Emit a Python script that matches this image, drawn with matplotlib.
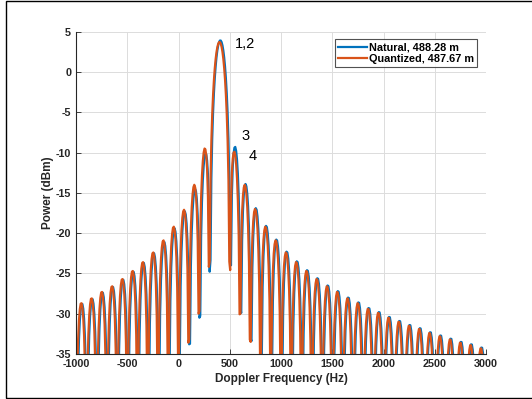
import numpy as np
import matplotlib
matplotlib.use("Agg")
import matplotlib.pyplot as plt
from matplotlib.patches import Rectangle

plt.rcParams['font.family'] = ['Liberation Sans', 'DejaVu Sans']
plt.rcParams['axes.unicode_minus'] = False

# ---- data ----
series_names = ["Natural, 488.28 m", "Quantized, 487.67 m"]
series_colors = ["#0072BD", "#D95319"]
main_peak_freq_hz = [408, 400]          # frequency of main-lobe peak
lobe_width_hz = [100, 100]              # spacing between spectral nulls
main_peak_dbm = [3.9, 3.7]
# sidelobe peak levels, counted outward from the main lobe
left_peaks_dbm = [
    [-10.1, -14.5, -17.3, -19.4, -21.1, -22.5, -23.7, -24.8, -25.8, -26.7, -27.4, -28.2, -28.8, -29.5, -30.0],
    [-9.5, -14.0, -17.1, -19.2, -20.9, -22.4, -23.6, -24.7, -25.7, -26.6, -27.3, -28.1, -28.7, -29.4, -29.9],
]
right_peaks_dbm = [
    [-9.3, -13.9, -16.9, -19.1, -20.8, -22.3, -23.5, -24.6, -25.6, -26.5, -27.2, -28.0, -28.6, -29.3, -29.8,
     -30.4, -30.9, -31.4, -31.8, -32.3, -32.7, -33.1, -33.5, -33.8, -34.2, -34.5],
    [-9.9, -14.0, -17.0, -19.2, -20.9, -22.4, -23.6, -24.7, -25.7, -26.6, -27.3, -28.1, -28.7, -29.4, -29.9,
     -30.5, -31.0, -31.5, -31.9, -32.4, -32.8, -33.2, -33.6, -33.9, -34.3, -34.6],
]
xticks = [-1000, -500, 0, 500, 1000, 1500, 2000, 2500, 3000]
yticks = [-35, -30, -25, -20, -15, -10, -5, 0, 5]
annotations = [("1,2", 548, 3.5), ("3", 610, -8.0), ("4", 680, -10.4)]

SAMPLES_PER_LOBE = 12


def lobe_curve(f0, width, start, stop, peak):
    """Sample one spectral lobe between nulls start..stop (in lobe units)."""
    n = int(round((stop - start) * SAMPLES_PER_LOBE))
    u = start + (np.arange(n) + 0.5) / SAMPLES_PER_LOBE
    mag = np.abs(np.sinc(u))
    level = peak + 20 * np.log10(mag / mag.max())
    return f0 + u * width, level


def build_series(i):
    f0, w = main_peak_freq_hz[i], lobe_width_hz[i]
    freqs, levels = [], []
    for k in range(len(left_peaks_dbm[i]), 0, -1):
        f, l = lobe_curve(f0, w, -k - 1, -k, left_peaks_dbm[i][k - 1])
        freqs.append(f); levels.append(l)
    f, l = lobe_curve(f0, w, -1, 1, main_peak_dbm[i])
    freqs.append(f); levels.append(l)
    for k in range(1, len(right_peaks_dbm[i]) + 1):
        f, l = lobe_curve(f0, w, k, k + 1, right_peaks_dbm[i][k - 1])
        freqs.append(f); levels.append(l)
    return np.concatenate(freqs), np.concatenate(levels)


fig = plt.figure(figsize=(5.32, 3.99), dpi=100)
ax = fig.add_axes([76 / 532, 45 / 399, 410 / 532, 322.3 / 399])

for i in range(2):
    f, l = build_series(i)
    ax.plot(f, l, color=series_colors[i], lw=1.6, label=series_names[i])

ax.set_xlim(-1000, 3000)
ax.set_ylim(-35, 5)
ax.set_xticks(xticks)
ax.set_yticks(yticks)
ax.grid(True, color='#dcdcdc', lw=0.7)
ax.set_axisbelow(True)
for s in ['top', 'right']:
    ax.spines[s].set_visible(False)
for s in ['left', 'bottom']:
    ax.spines[s].set_color('#262626')
    ax.spines[s].set_linewidth(0.8)
ax.tick_params(direction='in', length=3.5, width=0.6, color='#262626',
               labelsize=7.8, labelcolor='#262626', pad=3.5)
for lab in ax.get_xticklabels() + ax.get_yticklabels():
    lab.set_fontweight('bold')

ax.set_xlabel("Doppler Frequency (Hz)", fontsize=8.5, fontweight='bold', color='#262626', labelpad=3)
ax.set_ylabel("Power (dBm)", fontsize=8.5, fontweight='bold', color='#262626', labelpad=1)

for txt, x, y in annotations:
    ax.text(x, y, txt, fontsize=10.5, ha='left', va='center', color='black')

leg = ax.legend(loc='upper right', bbox_to_anchor=(0.978, 0.977),
                prop={'weight': 'bold', 'size': 7.8}, frameon=True, fancybox=False,
                edgecolor='#262626', handlelength=2.7, handletextpad=0.15,
                borderpad=0.3, labelspacing=0.15, borderaxespad=0)
leg.get_frame().set_linewidth(0.8)

fig.patches.append(Rectangle((6 / 532, 1 / 399), 1.0, 397 / 399, transform=fig.transFigure,
                             fill=False, edgecolor='black', lw=1.0))

fig.savefig("out.png", dpi=100)
